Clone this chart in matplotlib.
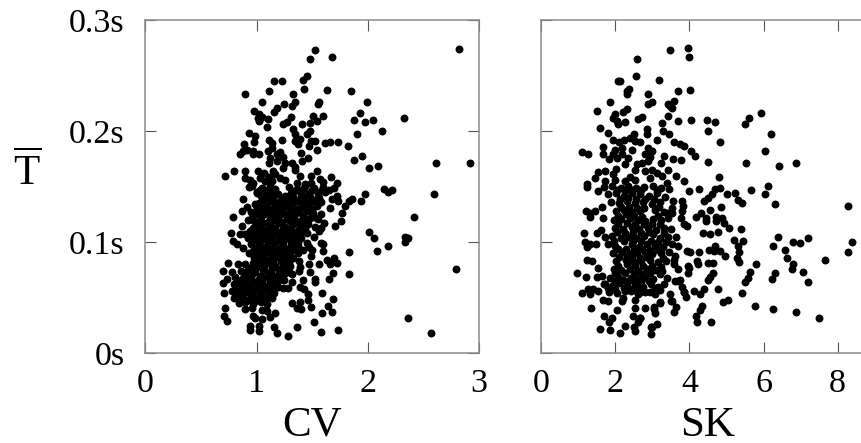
import numpy as np
from matplotlib import pyplot as plt

plt.rcParams['font.family'] = ['Liberation Serif', 'DejaVu Serif']
plt.rcParams['mathtext.fontset'] = 'custom'
plt.rcParams['mathtext.rm'] = 'Liberation Serif'

# values: (CV, mean T in seconds)
cv_points = [
    (1.53,.273),(1.48,.265),(1.68,.267),(1.45,.250),(1.42,.246),(1.16,.245),(1.23,.245),(1.43,.238),
    (1.63,.237),(1.85,.236),(.90,.233),(1.11,.236),(1.33,.233),(1.05,.226),(1.35,.226),(1.32,.223),
    (1.25,.224),(1.56,.226),(1.55,.224),(1.99,.226),(1.18,.221),(1.16,.217),(.98,.218),(1.02,.215),
    (1.01,.212),(1.02,.209),(1.05,.213),(1.10,.211),(1.09,.204),(1.31,.213),(1.27,.208),(1.24,.206),
    (1.51,.214),(1.60,.214),(1.54,.209),(1.48,.207),(1.41,.206),(1.93,.216),(1.88,.210),(1.98,.208),
    (2.05,.210),(2.33,.212),(2.82,.274),(2.13,.200),(1.90,.197),(1.33,.202),(1.48,.200),(1.45,.197),
    (1.35,.197),(.93,.198),(.99,.196),(.98,.190),(.89,.188),(1.11,.192),(1.14,.189),(1.23,.192),
    (1.14,.185),(1.10,.182),(1.35,.191),(1.39,.193),(1.37,.188),(1.47,.187),(1.49,.191),(1.53,.191),
    (1.62,.189),(1.66,.190),(1.73,.190),(1.82,.187),(1.54,.183),(1.40,.180),(1.46,.176),(1.41,.173),
    (.91,.183),(.97,.182),(.88,.182),(.85,.179),(.97,.179),(1.02,.179),(1.21,.181),(1.18,.179),
    (1.24,.177),(1.12,.176),(1.11,.171),(1.18,.173),(1.26,.171),(1.24,.167),(1.32,.171),(1.35,.168),
    (1.35,.165),(1.88,.174),(1.95,.178),(2.01,.167),(2.09,.169),(2.62,.171),(2.92,.171),(1.54,.164),
    (1.49,.160),(1.39,.160),(1.67,.159),(1.57,.157),(1.60,.154),(1.72,.153),(.72,.160),(.80,.164),
    (.90,.164),(.90,.158),(.94,.156),(1.01,.164),(1.07,.162),(1.15,.164),(1.17,.161),(1.11,.159),
    (1.03,.158),(1.21,.158),(1.26,.156),(1.08,.155),(.97,.153),(1.14,.155),(1.36,.153),(1.49,.153),
    (1.44,.152),(1.98,.143),(1.94,.137),(1.86,.139),(1.83,.137),(1.80,.133),(2.15,.148),(2.18,.145),
    (2.22,.147),(1.77,.126),(1.76,.119),(1.71,.115),(1.61,.117),(1.58,.113),(1.56,.110),(1.52,.105),
    (1.45,.108),(2.01,.109),(2.06,.104),(2.34,.105),(2.34,.100),(2.18,.097),(2.08,.092),(2.60,.143),
    (2.42,.123),(2.36,.104),(1.83,.091),(1.58,.099),(1.60,.098),(1.60,.092),(1.45,.099),(1.47,.096),
    (1.42,.093),(1.50,.093),(1.49,.088),(1.70,.086),(1.63,.084),(1.66,.080),(1.72,.081),(1.56,.080),
    (1.47,.080),(1.38,.083),(1.39,.078),(1.38,.074),(1.48,.073),(1.32,.071),(1.29,.073),(1.69,.072),
    (1.65,.067),(1.83,.071),(1.53,.067),(1.53,.064),(1.42,.066),(1.25,.066),(1.32,.064),(1.24,.059),
    (1.28,.059),(1.39,.060),(1.43,.058),(1.46,.053),(1.59,.054),(1.46,.048),(1.69,.049),(1.32,.045),
    (1.39,.046),(1.49,.042),(1.64,.043),(1.36,.041),(1.40,.040),(1.59,.036),(1.68,.037),(1.52,.028),
    (1.36,.024),(1.58,.019),(1.73,.021),(1.28,.016),(1.18,.018),(1.16,.024),(1.17,.036),(1.12,.033),
    (1.05,.039),(1.09,.038),(1.05,.031),(.97,.034),(.99,.032),(1.02,.025),(1.02,.020),(.94,.025),
    (.94,.021),(2.36,.032),(2.57,.018),(2.80,.076),
    (.72,.041),(.71,.034),(.73,.029),(.71,.054),(.70,.063),(.73,.067),(.70,.074),(.74,.081),(.78,.073),
    (.81,.069),(.83,.080),(.79,.123),(.88,.139),(.87,.115),(.92,.120),(.87,.128),(.91,.132),(.99,.134),
    (1.00,.144),(.93,.150),(.77,.108),(.79,.101),(.85,.107),(.90,.107),(.82,.098),(.88,.095),(.93,.090),
    # dense middle of the cloud
    (.96,.151),(1.05,.149),(1.12,.151),(1.17,.148),(1.29,.150),(1.36,.148),(1.44,.151),(1.52,.149),(1.60,.150),(1.65,.147),(1.70,.149),
    (1.00,.145),(1.07,.143),(1.14,.146),(1.31,.144),(1.39,.146),(1.47,.144),(1.55,.143),(1.62,.145),(1.72,.142),
    (1.08,.139),(1.15,.141),(1.22,.138),(1.29,.140),(1.37,.138),(1.44,.141),(1.52,.138),(1.58,.136),(1.68,.139),(1.73,.137),
    (1.02,.135),(1.09,.133),(1.17,.135),(1.24,.132),(1.33,.135),(1.40,.132),(1.47,.134),(1.54,.133),(1.66,.131),
    (.95,.127),(1.03,.129),(1.10,.127),(1.18,.129),(1.25,.126),(1.31,.129),(1.38,.127),(1.45,.128),(1.51,.126),(1.58,.125),
    (.96,.122),(1.04,.123),(1.12,.121),(1.19,.123),(1.27,.121),(1.34,.122),(1.41,.120),(1.48,.122),(1.55,.121),
    (1.00,.116),(1.06,.117),(1.13,.115),(1.20,.117),(1.26,.114),(1.33,.116),(1.40,.115),(1.46,.116),(1.53,.114),
    (.94,.110),(1.01,.111),(1.08,.109),(1.15,.111),(1.22,.109),(1.29,.110),(1.36,.109),(1.42,.110),
    (.92,.104),(.99,.105),(1.06,.103),(1.13,.105),(1.21,.103),(1.27,.104),(1.34,.103),(1.40,.104),
    (.95,.098),(1.02,.099),(1.09,.097),(1.16,.099),(1.24,.097),(1.31,.098),(1.37,.097),
    (.97,.092),(1.04,.093),(1.11,.091),(1.18,.093),(1.25,.091),(1.31,.092),(1.37,.090),
    (.98,.086),(1.05,.087),(1.12,.085),(1.19,.087),(1.27,.085),(1.33,.086),
    (.90,.080),(.97,.081),(1.04,.079),(1.10,.081),(1.17,.079),(1.24,.080),(1.30,.079),
    (.86,.074),(.92,.075),(.99,.073),(1.06,.075),(1.13,.073),(1.20,.074),(1.27,.073),
    (.88,.068),(.95,.069),(1.02,.067),(1.09,.069),(1.16,.067),(1.23,.068),
    (.80,.062),(.86,.063),(.93,.061),(1.00,.063),(1.07,.061),(1.14,.062),(1.19,.060),
    (.78,.056),(.84,.057),(.91,.055),(.98,.057),(1.05,.055),(1.12,.056),(1.16,.054),
    (.80,.050),(.87,.051),(.94,.049),(1.01,.051),(1.08,.049),(1.14,.050),
    (.84,.045),(.90,.046),(.97,.044),(1.04,.046),(1.09,.044),(.90,.040),(.96,.041),
    # second pass over the dense part, the gaps left by the rows above
    (1.03,.147),(1.10,.147),(1.34,.146),(1.42,.148),(1.50,.147),(1.58,.146),
    (1.04,.142),(1.11,.141),(1.19,.143),(1.26,.142),(1.33,.141),(1.40,.143),(1.48,.141),(1.56,.140),
    (1.05,.137),(1.13,.137),(1.20,.136),(1.27,.136),(1.36,.137),(1.43,.136),(1.50,.137),
    (1.00,.131),(1.06,.131),(1.14,.130),(1.21,.131),(1.29,.132),(1.36,.130),(1.43,.131),(1.50,.130),
    (1.00,.125),(1.07,.125),(1.15,.124),(1.22,.125),(1.29,.124),(1.35,.125),(1.42,.124),(1.52,.123),
    (.98,.119),(1.03,.119),(1.10,.118),(1.17,.120),(1.23,.118),(1.30,.119),(1.37,.118),(1.44,.119),
    (.97,.113),(1.04,.114),(1.10,.112),(1.17,.113),(1.24,.112),(1.31,.113),(1.38,.112),(1.44,.113),
    (.97,.107),(1.04,.107),(1.11,.106),(1.18,.107),(1.25,.106),(1.32,.107),(1.38,.106),
    (.96,.101),(1.03,.102),(1.10,.100),(1.18,.101),(1.24,.100),(1.31,.101),(1.37,.100),
    (.99,.095),(1.06,.096),(1.14,.094),(1.21,.095),(1.28,.094),(1.34,.095),
    (1.01,.089),(1.08,.090),(1.15,.088),(1.23,.089),(1.30,.088),
    (1.01,.083),(1.08,.084),(1.15,.082),(1.22,.083),(1.29,.082),
    (.94,.077),(1.00,.078),(1.07,.076),(1.14,.077),(1.21,.076),(1.27,.077),
    (.90,.071),(.97,.072),(1.04,.070),(1.11,.071),(1.18,.070),(1.25,.071),
    (.84,.065),(.91,.066),(.98,.064),(1.05,.065),(1.12,.064),(1.19,.065),
    (.82,.059),(.89,.060),(.96,.058),(1.03,.059),(1.10,.058),(1.15,.059),
    (.82,.053),(.89,.054),(.96,.052),(1.03,.053),(1.10,.052),
    (.85,.048),(.92,.048),(.99,.047),(1.06,.048),
]

# values: (SK, mean T in seconds)
sk_points = [
    (3.48,.273),(3.97,.275),(3.98,.267),(2.59,.265),(2.55,.250),(3.18,.246),(2.06,.245),(2.12,.245),
    (2.37,.238),(2.31,.236),(2.30,.233),(2.89,.233),(3.70,.236),(4.01,.237),(1.85,.226),(2.98,.226),
    (2.89,.224),(3.58,.227),(3.43,.224),(3.54,.221),(3.48,.223),(1.49,.218),(2.32,.220),(2.20,.217),
    (1.99,.215),(1.94,.212),(2.03,.209),(2.08,.206),(2.26,.208),(2.73,.213),(2.62,.211),(3.42,.214),
    (3.68,.209),(4.03,.210),(3.26,.207),(1.59,.203),(2.85,.202),(2.85,.197),(1.79,.198),(3.28,.200),
    (3.45,.197),(1.93,.192),(2.50,.197),(2.39,.194),(2.24,.192),(2.10,.190),(2.53,.191),(2.66,.190),
    (3.12,.192),(3.57,.190),(3.75,.188),(3.85,.187),(1.66,.186),(1.67,.179),(1.11,.181),(1.25,.179),
    (1.99,.183),(1.94,.179),(1.83,.175),(2.03,.176),(2.19,.185),(2.46,.183),(2.89,.185),(2.98,.182),
    (2.80,.179),(2.93,.177),(4.03,.182),(4.15,.178),(3.32,.178),(3.55,.175),(3.76,.174),(3.23,.171),
    (3.43,.165),(2.17,.179),(2.35,.176),(2.26,.170),(2.71,.171),(2.57,.170),(2.89,.173),(2.02,.166),
    (1.94,.161),(1.72,.164),(1.54,.163),(1.45,.158),(2.53,.165),(2.80,.164),(2.98,.165),(3.12,.162),
    (3.25,.160),(3.64,.160),(3.85,.155),(2.40,.159),(2.53,.156),(2.93,.158),(1.22,.152),(1.72,.155),
    (2.00,.156),(2.26,.155),(3.39,.153),(4.80,.159),(4.49,.172),(5.53,.171),(6.43,.169),(6.89,.171),
    (6.03,.182),(6.21,.197),(4.83,.190),(4.49,.200),(4.46,.210),(4.69,.208),(5.61,.212),(5.51,.206),
    (5.94,.216),(6.12,.151),(6.05,.143),(6.30,.134),(5.65,.147),(5.23,.144),(5.30,.138),(5.43,.135),
    (5.01,.143),(4.83,.149),(4.69,.148),(4.60,.143),(4.51,.140),(4.38,.137),(4.85,.132),(4.56,.129),
    (4.30,.126),(4.18,.123),(4.44,.122),(4.44,.119),(4.72,.123),(4.72,.119),(4.87,.122),(4.92,.117),
    (5.07,.113),(5.39,.112),(4.76,.109),(4.56,.107),(4.36,.108),(5.21,.102),(5.45,.101),(5.30,.097),
    (5.35,.091),(5.28,.086),(5.35,.082),(5.80,.080),(6.39,.105),(6.25,.097),(6.59,.093),(6.80,.100),
    (6.98,.099),(7.20,.104),(6.63,.086),(6.79,.080),(6.76,.076),(7.07,.073),(7.21,.064),(6.31,.072),
    (6.22,.067),(5.64,.073),(5.57,.068),(5.50,.064),(4.78,.058),(5.41,.054),(5.05,.048),(4.90,.046),
    (5.76,.043),(6.26,.040),(6.89,.037),(7.50,.032),(8.27,.133),(8.40,.100),(8.29,.091),(7.65,.084),
    (4.59,.028),(4.21,.028),(4.18,.034),(4.33,.043),(4.29,.039),(4.29,.053),(4.40,.058),(4.12,.056),
    (3.64,.042),(3.59,.037),(3.48,.053),(3.52,.047),(3.91,.051),(3.84,.055),(3.79,.060),(3.75,.066),
    (3.61,.065),(3.95,.079),(4.00,.077),(3.95,.072),(4.20,.083),(4.24,.080),(4.51,.081),(4.63,.081),
    (4.63,.072),(4.56,.069),(4.51,.066),(3.93,.092),(4.02,.091),(4.27,.091),(4.54,.093),(4.69,.097),
    (4.67,.092),(4.83,.092),(4.95,.088),(3.70,.076),(3.93,.115),(3.84,.116),(3.76,.122),(3.79,.128),
    (3.82,.133),(3.79,.137),(3.52,.131),(3.43,.126),(3.43,.122),(3.99,.146),(4.27,.148),(3.64,.105),
    (3.68,.097),(3.61,.088),(3.57,.084),(2.80,.041),(3.04,.040),(3.07,.036),(3.20,.046),(2.67,.032),
    (2.98,.024),(3.13,.026),(2.96,.017),(.97,.072),(1.21,.069),(1.09,.054),(1.33,.041),(1.69,.034),
    (1.57,.022),(1.85,.021),(2.12,.018),(1.83,.028),(1.90,.032),(2.03,.039),(2.47,.034),(2.53,.041),
    (2.26,.025),(2.53,.020),(2.49,.024),(2.66,.032),(2.62,.028),(2.95,.024),(1.22,.084),(1.38,.083),
    (1.15,.108),(1.18,.100),(1.31,.098),(1.22,.096),(1.48,.098),(1.49,.108),(1.60,.111),(1.21,.128),
    (1.31,.126),(1.45,.128),(1.31,.123),(1.67,.122),(1.63,.132),(1.54,.146),(1.22,.150),(1.54,.077),
    (1.49,.069),(1.63,.070),(1.27,.058),(1.40,.058),(1.31,.053),(1.54,.056),(1.72,.062),(1.67,.048),
    (1.81,.047),(2.19,.047),(2.26,.056),(2.21,.050),(2.53,.048),(2.62,.053),(2.80,.055),(3.03,.042),
    (3.21,.045),(3.50,.047),(3.84,.055),(3.70,.065),(3.32,.062),(3.21,.057),
    # dense middle of the cloud
    (1.70,.150),(1.90,.151),(2.14,.149),(2.35,.151),(2.55,.149),(2.78,.150),(3.02,.151),(3.22,.149),(3.46,.148),
    (1.80,.143),(2.02,.144),(2.22,.142),(2.44,.144),(2.66,.143),(2.90,.142),(3.12,.144),(3.33,.141),
    (1.88,.136),(2.10,.135),(2.32,.137),(2.52,.135),(2.75,.136),(2.98,.134),(3.20,.136),(3.55,.137),
    (2.02,.128),(2.24,.129),(2.44,.127),(2.66,.128),(3.08,.129),(3.30,.127),(3.52,.126),
    (1.95,.120),(2.16,.121),(2.38,.122),(2.60,.120),(2.80,.119),(3.02,.121),(3.24,.120),
    (1.98,.113),(2.20,.112),(2.44,.114),(2.64,.112),(2.88,.113),(3.10,.111),(3.32,.113),(3.50,.112),
    (1.72,.105),(1.92,.106),(2.14,.104),(2.36,.105),(2.56,.104),(2.78,.106),(3.20,.104),(3.42,.105),
    (1.80,.098),(2.00,.097),(2.44,.098),(2.64,.096),(2.86,.098),(3.08,.097),(3.28,.096),(3.54,.098),
    (1.94,.090),(2.18,.091),(2.38,.089),(2.58,.090),(2.80,.091),(3.00,.089),(3.24,.090),(3.44,.091),
    (2.02,.083),(2.28,.084),(2.50,.082),(2.70,.083),(2.94,.084),(3.14,.082),(3.36,.083),(3.58,.080),
    (1.96,.076),(2.16,.075),(2.38,.076),(2.60,.074),(2.84,.076),(3.06,.075),(3.26,.074),
    (1.84,.068),(2.06,.069),(2.42,.068),(2.62,.067),(2.80,.069),(3.02,.067),(3.40,.068),
    (1.68,.062),(1.90,.061),(2.10,.063),(2.32,.061),(2.54,.062),(2.74,.060),(2.96,.062),(3.16,.060),
    (1.82,.055),(2.04,.054),(2.42,.056),(2.64,.054),(2.92,.055),(3.06,.053),
    # second pass over the dense part
    (2.04,.147),(2.26,.146),(2.46,.147),(2.68,.147),(3.12,.147),
    (2.12,.139),(2.34,.140),(2.56,.139),(2.80,.139),(3.04,.139),
    (2.14,.132),(2.36,.132),(2.58,.131),(2.76,.131),(3.18,.132),
    (2.06,.124),(2.28,.125),(2.50,.124),(2.72,.123),(3.14,.124),
    (2.08,.116),(2.32,.117),(2.54,.116),(2.76,.116),(2.98,.116),(3.20,.116),
    (2.04,.109),(2.26,.108),(2.48,.109),(2.68,.108),(2.90,.109),(3.02,.107),(3.30,.108),
    (1.96,.101),(2.24,.101),(2.48,.101),(2.70,.101),(2.96,.101),(3.14,.100),(3.36,.100),
    (2.08,.094),(2.28,.094),(2.50,.094),(2.72,.094),(2.92,.093),(3.16,.093),
    (2.10,.087),(2.32,.087),(2.46,.086),(2.66,.086),(2.86,.087),(3.28,.086),
    (2.08,.079),(2.30,.080),(2.52,.079),(2.74,.079),(3.00,.079),(3.22,.078),
    (2.00,.072),(2.26,.072),(2.50,.071),(2.72,.071),(2.92,.072),(3.20,.071),
    (1.98,.065),(2.20,.066),(2.34,.065),(2.52,.065),(2.70,.064),(2.90,.065),
    (1.80,.059),(2.00,.058),(2.22,.059),(2.44,.058),(2.62,.058),(3.08,.058),
]

cv_ticks = [0, 1, 2, 3]
sk_ticks = [0, 2, 4, 6, 8]
t_ticks = [0, 0.1, 0.2, 0.3]
t_tick_labels = ['0s', '0.1s', '0.2s', '0.3s']


def setup_axes(ax, x_max, x_ticks):
    ax.set_xlim(0, x_max)
    ax.set_ylim(0, 0.3)
    ax.set_xticks(x_ticks)
    ax.set_yticks(t_ticks)
    ax.tick_params(direction='in', length=8, width=0.8, color='#555555',
                   top=True, right=True, labelsize=24.5)
    ax.tick_params(axis='x', pad=11)
    for spine in ax.spines.values():
        spine.set_color('#8a8a8a')
        spine.set_linewidth(1.1)


def main():
    fig = plt.figure(figsize=(8.62, 4.43), dpi=100)
    W, H = 862, 443
    # second panel runs off the right edge of the picture, as in the source
    axCv = fig.add_axes([145.5 / W, 1 - 353.3 / H, 333.2 / W, 333.3 / H])
    axSk = fig.add_axes([541.4 / W, 1 - 353.3 / H, 333.2 / W, 333.3 / H])

    cv = np.array(cv_points)
    sk = np.array(sk_points)
    axCv.plot(cv[:, 0], cv[:, 1], 'o', color='black', ms=5.7, mew=0)
    axSk.plot(sk[:, 0], sk[:, 1], 'o', color='black', ms=5.7, mew=0)

    setup_axes(axCv, 3, cv_ticks)
    setup_axes(axSk, 9, sk_ticks)
    axCv.set_yticklabels(t_tick_labels)
    axCv.tick_params(axis='y', pad=15)
    axSk.set_yticklabels([])

    axCv.set_xlabel('CV', fontsize=31, labelpad=5)
    axSk.set_xlabel('SK', fontsize=31, labelpad=5)
    fig.text(27 / W, 1 - 173 / H, r'$\overline{\mathrm{T}}$', fontsize=31, ha='center', va='center')

    fig.savefig('out.png', dpi=100)


if __name__ == '__main__':
    main()
